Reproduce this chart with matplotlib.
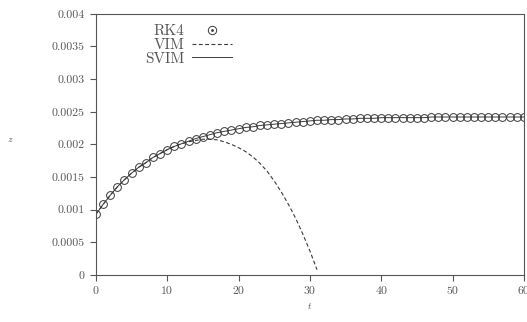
import matplotlib
matplotlib.use('Agg')
import matplotlib.pyplot as plt
from matplotlib.lines import Line2D

plt.rcParams['font.family'] = 'cmr10'
plt.rcParams['axes.formatter.use_mathtext'] = True
plt.rcParams['mathtext.fontset'] = 'cm'

# RK4 / SVIM solution, read at t = 0, 1, ..., 60
t_rk4 = list(range(0, 61))
z_rk4 = [0.00093, 0.00108, 0.00122, 0.00135, 0.00146, 0.00156, 0.00165,
         0.00172, 0.00180, 0.00186, 0.00192, 0.00197, 0.00201, 0.00205,
         0.00209, 0.00212, 0.00215, 0.00218, 0.00220, 0.00222, 0.00224,
         0.00226, 0.00227, 0.00229, 0.00230, 0.00231, 0.00232, 0.00233,
         0.00234, 0.00235, 0.00236, 0.00237, 0.00237, 0.00238, 0.00238,
         0.00239, 0.00239, 0.00240, 0.00240, 0.00240, 0.00241, 0.00241,
         0.00241, 0.00241, 0.00241, 0.00241, 0.00241, 0.00242, 0.00242,
         0.00242, 0.00242, 0.00242, 0.00242, 0.00242, 0.00242, 0.00242,
         0.00242, 0.00242, 0.00242, 0.00242, 0.00242]

# VIM solution (breaks down after t ~ 15)
t_vim = list(range(0, 32))
z_vim = [0.00093, 0.00108, 0.00122, 0.00135, 0.00146, 0.00156, 0.00165,
         0.00172, 0.00180, 0.00186, 0.00192, 0.00197, 0.00201, 0.00204,
         0.00206, 0.00208, 0.00208, 0.00207, 0.00204, 0.00200, 0.00195,
         0.00189, 0.00181, 0.00171, 0.00159, 0.00144, 0.00127, 0.00108,
         0.00087, 0.00063, 0.00037, 0.00008]

x_ticks = [0, 10, 20, 30, 40, 50, 60]
y_ticks = [0, 0.0005, 0.001, 0.0015, 0.002, 0.0025, 0.003, 0.0035, 0.004]
y_tick_labels = ['0', '0.0005', '0.001', '0.0015', '0.002', '0.0025',
                 '0.003', '0.0035', '0.004']

grey = '#555555'
line_c = '#3a3a3a'

fig = plt.figure(figsize=(5.27, 3.22), dpi=100)
ax = fig.add_axes([0.182, 0.146, 0.812, 0.811])

ax.plot(t_vim, z_vim, color=line_c, lw=0.8, ls=(0, (3.5, 2.2)))
ax.plot(t_rk4, z_rk4, color=line_c, lw=0.7)
ax.plot(t_rk4, z_rk4, ls='none', marker='o', ms=5.6, mfc='none',
        mec=line_c, mew=0.7)

ax.set_xlim(0, 60)
ax.set_ylim(0, 0.004)
ax.set_xticks(x_ticks)
ax.set_xticklabels([str(v) for v in x_ticks])
ax.set_yticks(y_ticks)
ax.set_yticklabels(y_tick_labels)
ax.tick_params(direction='out', length=4, width=0.8, colors=grey,
               labelsize=8.5, pad=4)
for s in ax.spines.values():
    s.set_color(grey)
    s.set_linewidth(0.8)

ax.set_xlabel('$t$', fontsize=7, color=grey, labelpad=4)
ax.set_ylabel('$z$', fontsize=7, color=grey, rotation=0)
ax.yaxis.set_label_coords(-0.2, 0.5)

# legend: labels first, handles on the right
h_circ = Line2D([], [], ls='none', marker='o', ms=6, mfc='none',
                mec=line_c, mew=0.7)
h_dot = Line2D([], [], ls='none', marker='.', ms=2, color=line_c)
h_vim = Line2D([], [], color=line_c, lw=0.8, ls=(0, (3.5, 2.2)))
h_svim = Line2D([], [], color=line_c, lw=0.7)
leg = ax.legend([(h_circ, h_dot), h_vim, h_svim], ['RK4', 'VIM', 'SVIM'],
                loc='upper left', bbox_to_anchor=(0.09, 1.0),
                markerfirst=False, frameon=False, fontsize=11,
                handlelength=2.6, handletextpad=0.5, labelspacing=0.0,
                borderaxespad=0.3)
for txt in leg.get_texts():
    txt.set_color(grey)

fig.savefig('out.png', dpi=100)
plt.close()
